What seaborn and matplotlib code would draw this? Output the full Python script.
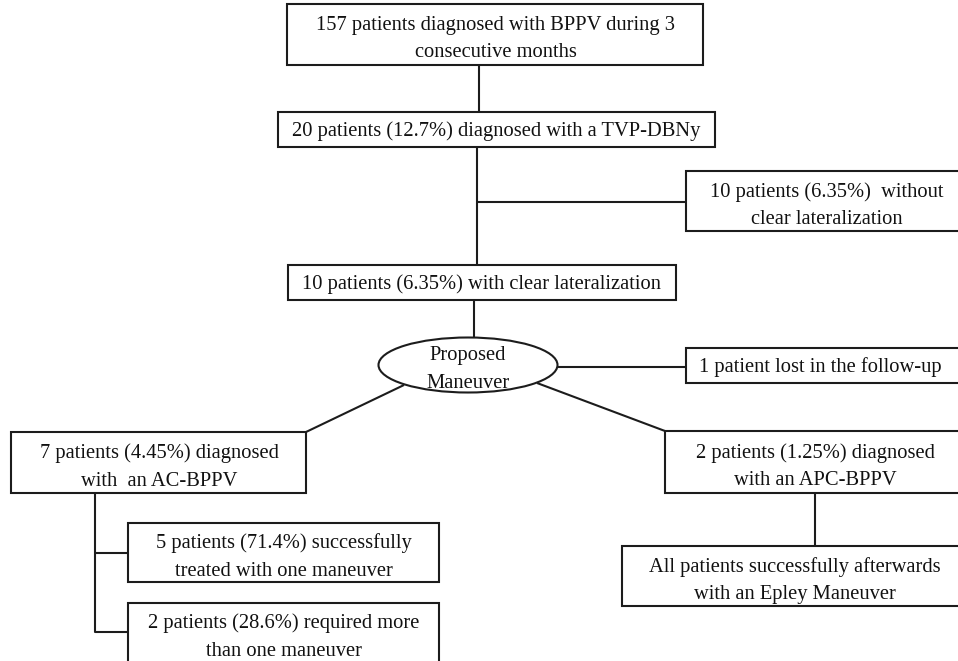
import seaborn as sns
import matplotlib.pyplot as plt
from matplotlib.patches import Rectangle, Ellipse

# Box texts of the flow chart
start_text = "157 patients diagnosed with BPPV during 3\nconsecutive months"
tvp_text = "20 patients (12.7%) diagnosed with a TVP-DBNy"
no_lat_text = "10 patients (6.35%)  without\nclear lateralization"
lat_text = "10 patients (6.35%) with clear lateralization"
maneuver_text = "Proposed\nManeuver"
lost_text = "1 patient lost in the follow-up"
ac_text = "7 patients (4.45%) diagnosed\nwith  an AC-BPPV"
apc_text = "2 patients (1.25%) diagnosed\nwith an APC-BPPV"
epley_text = "All patients successfully afterwards\nwith an Epley Maneuver"
one_text = "5 patients (71.4%) successfully\ntreated with one maneuver"
more_text = "2 patients (28.6%) required more\nthan one maneuver"

# Layout in pixel coords: (left, top, right, bottom, text_x)
boxes = [
    (start_text, (287, 4, 703, 65, 496)),
    (tvp_text, (278, 112, 715, 147, 496)),
    (no_lat_text, (686, 171, 966, 231, 827)),
    (lat_text, (288, 265, 676, 300, 482)),
    (lost_text, (686, 348, 962, 383, 820)),
    (ac_text, (11, 432, 306, 493, 159)),
    (apc_text, (665, 431, 965, 493, 815)),
    (epley_text, (622, 546, 968, 606, 795)),
    (one_text, (128, 523, 439, 582, 284)),
    (more_text, (128, 603, 439, 690, 284)),
]

# Connector polylines
links = [
    [(479, 65), (479, 112)],
    [(477, 147), (477, 265)],
    [(477, 202), (686, 202)],
    [(474, 300), (474, 338)],
    [(558, 367), (686, 367)],
    [(404, 385), (306, 432)],
    [(537, 383), (665, 431)],
    [(815, 493), (815, 546)],
    [(95, 493), (95, 632), (128, 632)],
    [(95, 553), (128, 553)],
]

sns.set_theme(style="white")
plt.rcParams["font.family"] = ["Liberation Serif", "DejaVu Serif"]

fig = plt.figure(figsize=(9.58, 6.61), dpi=100)
ax = fig.add_axes([0, 0, 1, 1])
ax.set_xlim(0, 958)
ax.set_ylim(661, 0)
ax.axis("off")

line_color = "#1c1c1c"
fsize = 14.8
lsp = 1.62

for pts in links:
    xs = [p[0] for p in pts]
    ys = [p[1] for p in pts]
    ax.plot(xs, ys, color=line_color, lw=1.5, solid_capstyle="butt")

for label, (x0, y0, x1, y1, tx) in boxes:
    ax.add_patch(Rectangle((x0, y0), x1 - x0, y1 - y0, facecolor="white",
                           edgecolor=line_color, lw=1.5))
    two_lines = "\n" in label
    ty = (y0 + y1) / 2 + (4.5 if two_lines else 2)
    if y1 > 661:
        ty = 637
    ax.text(tx, ty, label, ha="center", va="center", fontsize=fsize,
            color="#111111", linespacing=lsp)

ax.add_patch(Ellipse((468, 365), 179, 55, facecolor="white",
                     edgecolor=line_color, lw=1.5))
ax.text(468, 369.5, maneuver_text, ha="center", va="center", fontsize=fsize,
        color="#111111", linespacing=lsp)

plt.savefig("out.png", dpi=100)
